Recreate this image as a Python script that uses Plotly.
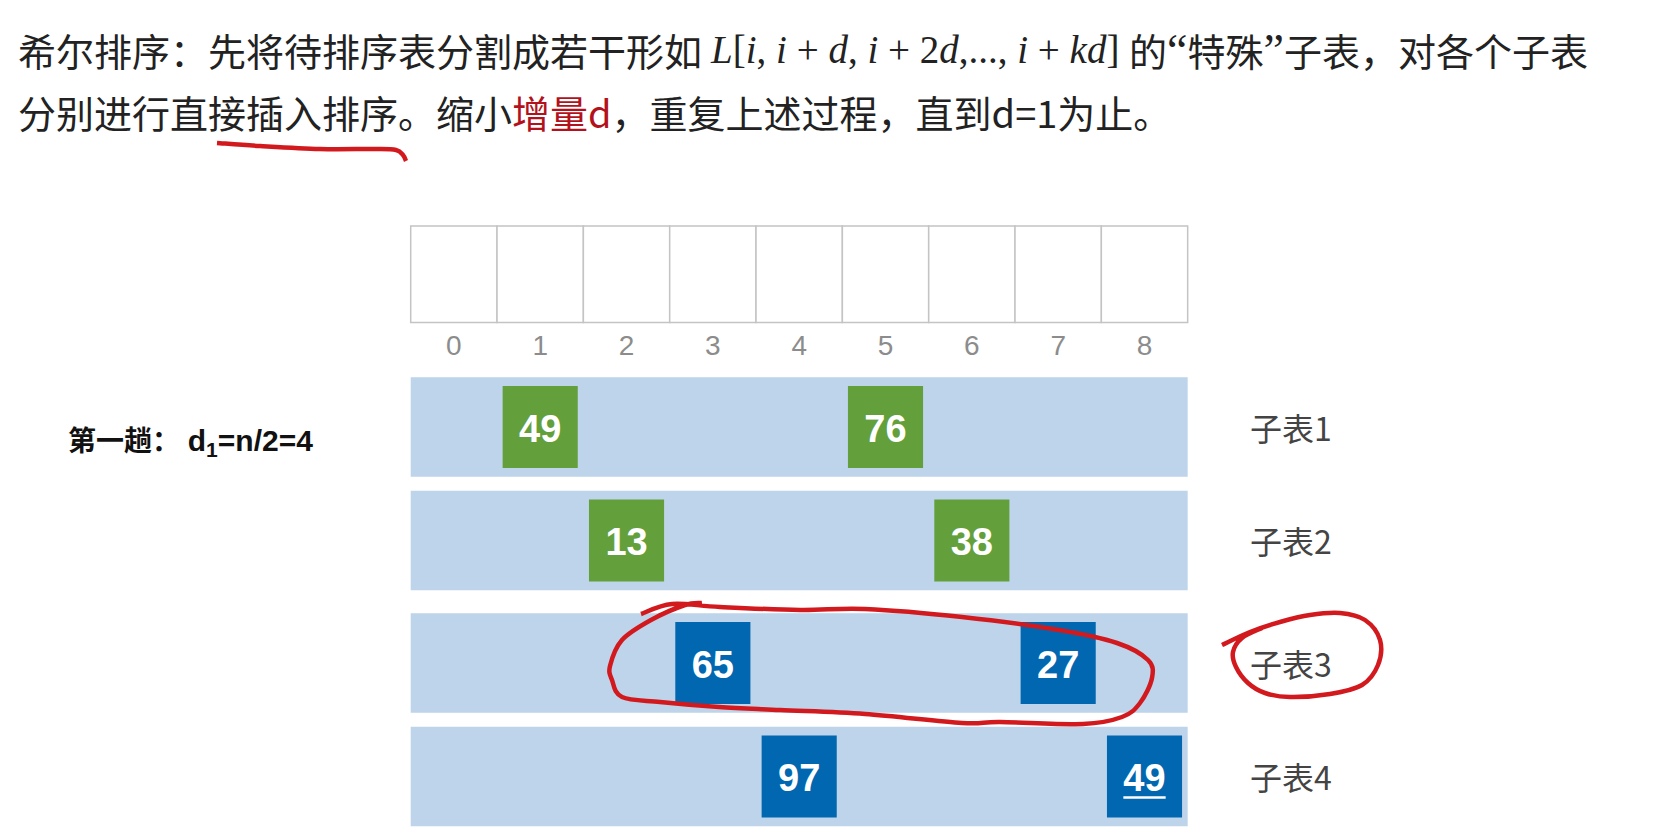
import plotly.graph_objects as go

# ---- data ----
INDICES = [0, 1, 2, 3, 4, 5, 6, 7, 8]
SUBTABLE_NAMES = ["子表1", "子表2", "子表3", "子表4"]
SUBTABLE_POSITIONS = [[1, 5], [2, 6], [3, 7], [4, 8]]
SUBTABLE_VALUES = [[49, 76], [13, 38], [65, 27], [97, 49]]
UNDERLINED = [(3, 1)]  # (subtable, item) drawn with an underline
PASS_LABEL = ("<b>第一趟： <span style='font-size:30px'>d<sub>1</sub>=n/2=4</span></b>")
TITLE_LINE1_A = "希尔排序：先将待排序表分割成若干形如"
TITLE_MATH = ("<i>L</i>[<i>i</i>, <i>i</i> + <i>d</i>, <i>i</i> + 2<i>d</i>,..., "
              "<i>i</i> + <i>kd</i>]")
QUOTE_STYLE = "font-family:Liberation Serif;font-size:46px"
TITLE_LINE1_B = (f"的<span style='{QUOTE_STYLE}'>“</span>特殊"
                 f"<span style='{QUOTE_STYLE}'>”</span>子表，对各个子表")
TITLE_LINE2 = ("分别进行直接插入排序。缩小<span style='color:#b3121c'>增量d</span>，"
               "重复上述过程，直到d=1为止。")

# ---- layout constants (window pixels; the page puts the figure 8px in) ----
OFFSET = 8
WIN_W, WIN_H = 1659, 834
W, H = WIN_W - OFFSET, WIN_H - OFFSET
CELL = 86.33
GRID_LEFT = 410.7
X0 = -0.5 + (OFFSET - GRID_LEFT) / CELL
X1 = -0.5 + (WIN_W - GRID_LEFT) / CELL
BOX_TOP, BOX_BOTTOM = 226, 322.5
INDEX_Y = 348
BAND_TOPS = [377.3, 490.7, 613.3, 726.7]
BAND_H = 99.5
SQ_HALF = 0.435
SQ_INSET = 8.7
TEXT_DROP = 5
UNDERLINE_DROP = 21
UNDERLINE_HALF = 0.245
GREEN = "#63a03b"
BLUE = "#0067b0"
BAND = "#bdd4ea"
GROUP_COLORS = [GREEN, GREEN, BLUE, BLUE]
RED = "#d2191e"
CJK = "Noto Sans CJK SC"
SANS = "Liberation Sans, Noto Sans CJK SC"

# hand-drawn red strokes (window pixel positions)
UNDERLINE_STROKE = [(217, 143), (260, 146), (320, 149), (375, 149), (396, 150),
                    (403, 155), (406, 161)]
BIG_LOOP_STROKE = [(641, 614), (672, 604), (720, 607), (800, 610), (865, 609),
                   (962, 617), (1059, 630), (1117, 643), (1148, 660), (1152, 678),
                   (1140, 703), (1122, 717), (1083, 724), (1000, 722), (962, 723),
                   (865, 714), (780, 710), (719, 707), (660, 702), (622, 697),
                   (612, 680), (610, 666), (622, 640), (651, 620), (685, 605),
                   (702, 603)]
SMALL_LOOP_STROKE = [(1222, 645), (1250, 632), (1280, 622), (1310, 615), (1340, 613),
                     (1365, 620), (1380, 640), (1378, 665), (1362, 685), (1330, 694),
                     (1290, 697), (1265, 693), (1248, 683), (1236, 667), (1233, 652),
                     (1242, 638), (1262, 628)]


def px(x):
    return (x - OFFSET) / W


def py(y):
    return 1 - (y - OFFSET) / H


def smooth_path(points):
    pts = [(px(x), py(y)) for x, y in points]
    d = f"M {pts[0][0]:.5f},{pts[0][1]:.5f}"
    for i in range(len(pts) - 1):
        p0 = pts[i - 1] if i > 0 else pts[i]
        p1, p2 = pts[i], pts[i + 1]
        p3 = pts[i + 2] if i + 2 < len(pts) else p2
        c1 = (p1[0] + (p2[0] - p0[0]) / 6, p1[1] + (p2[1] - p0[1]) / 6)
        c2 = (p2[0] - (p3[0] - p1[0]) / 6, p2[1] - (p3[1] - p1[1]) / 6)
        d += (f" C {c1[0]:.5f},{c1[1]:.5f} {c2[0]:.5f},{c2[1]:.5f}"
              f" {p2[0]:.5f},{p2[1]:.5f}")
    return d


fig = go.Figure()
shapes = []
annotations = []

# empty table with its index labels
for i in INDICES:
    shapes.append(dict(type="rect", xref="x", yref="y", x0=i - 0.5, x1=i + 0.5,
                       y0=BOX_TOP, y1=BOX_BOTTOM, fillcolor="white",
                       line=dict(color="#c4c4c4", width=1.5), layer="below"))
fig.add_trace(go.Scatter(
    x=INDICES, y=[INDEX_Y] * len(INDICES), mode="text",
    text=[str(i) for i in INDICES],
    textfont=dict(family=SANS, size=28, color="#8c8c8c"),
    hoverinfo="skip", showlegend=False,
))

# sub-table bands and their elements
for r, (positions, values) in enumerate(zip(SUBTABLE_POSITIONS, SUBTABLE_VALUES)):
    top = BAND_TOPS[r]
    mid = top + BAND_H / 2
    shapes.append(dict(type="rect", xref="x", yref="y", x0=-0.5, x1=INDICES[-1] + 0.5,
                       y0=top, y1=top + BAND_H, fillcolor=BAND, line_width=0,
                       layer="below"))
    for k, pos in enumerate(positions):
        shapes.append(dict(type="rect", xref="x", yref="y", x0=pos - SQ_HALF,
                           x1=pos + SQ_HALF, y0=top + SQ_INSET,
                           y1=top + BAND_H - SQ_INSET, fillcolor=GROUP_COLORS[r],
                           line_width=0, layer="below"))
        if (r, k) in UNDERLINED:
            shapes.append(dict(type="line", xref="x", yref="y",
                               x0=pos - UNDERLINE_HALF, x1=pos + UNDERLINE_HALF,
                               y0=mid + UNDERLINE_DROP, y1=mid + UNDERLINE_DROP,
                               line=dict(color="white", width=2.5), layer="above"))
    fig.add_trace(go.Scatter(
        x=positions, y=[mid + TEXT_DROP] * len(positions), mode="text",
        text=[str(v) for v in values],
        textfont=dict(family="Liberation Sans", size=38, color="white", weight="bold"),
        hoverinfo="skip", showlegend=False,
    ))
    annotations.append(dict(xref="x", yref="y", x=9.2, y=mid,
                            text=SUBTABLE_NAMES[r], showarrow=False, xanchor="left",
                            yanchor="middle",
                            font=dict(family=CJK, size=32, color="#444444")))

# pass label on the left
annotations.append(dict(xref="paper", yref="y", x=px(66), y=442, text=PASS_LABEL,
                        showarrow=False, xanchor="left", yanchor="middle",
                        font=dict(family=SANS, size=28, color="#111111")))

# two text lines at the top
TITLE_FONT = dict(family=CJK, size=38, color="#222222")
annotations.append(dict(xref="paper", yref="paper", x=px(16), y=py(49.5),
                        text=TITLE_LINE1_A, showarrow=False, xanchor="left",
                        yanchor="middle", font=TITLE_FONT))
annotations.append(dict(xref="paper", yref="paper", x=px(708), y=py(50),
                        text=TITLE_MATH, showarrow=False, xanchor="left",
                        yanchor="middle",
                        font=dict(family="Liberation Serif", size=39, color="#222222")))
annotations.append(dict(xref="paper", yref="paper", x=px(1127), y=py(49.5),
                        text=TITLE_LINE1_B, showarrow=False, xanchor="left",
                        yanchor="middle", font=TITLE_FONT))
annotations.append(dict(xref="paper", yref="paper", x=px(16), y=py(111.5),
                        text=TITLE_LINE2, showarrow=False, xanchor="left",
                        yanchor="middle", font=TITLE_FONT))

# red pen marks
for stroke in (UNDERLINE_STROKE, BIG_LOOP_STROKE, SMALL_LOOP_STROKE):
    shapes.append(dict(type="path", xref="paper", yref="paper", path=smooth_path(stroke),
                       line=dict(color=RED, width=4.5), layer="above"))

fig.update_layout(
    width=W, height=H,
    margin=dict(l=0, r=0, t=0, b=0, pad=0),
    paper_bgcolor="white", plot_bgcolor="white",
    shapes=shapes, annotations=annotations,
    xaxis=dict(range=[X0, X1], visible=False, fixedrange=True),
    yaxis=dict(range=[WIN_H, OFFSET], visible=False, fixedrange=True),
    showlegend=False,
)

fig.write_html("out.html")
